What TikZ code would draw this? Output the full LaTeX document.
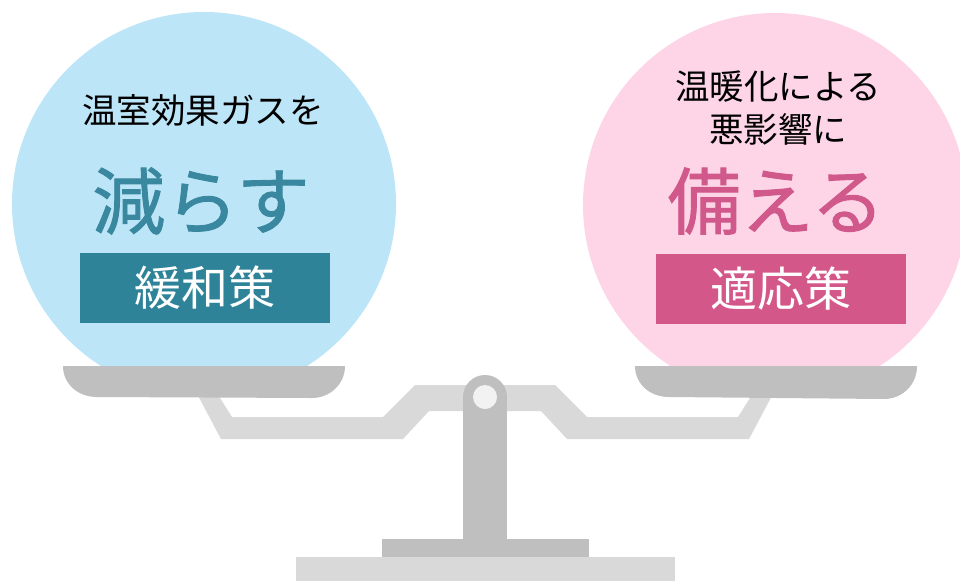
\documentclass[tikz,border=0pt]{standalone}
\usepackage{fontspec}
\setmainfont{Noto Sans CJK JP}
\newfontfamily\heavyfont[FakeBold=1.2]{Noto Sans CJK JP}
\usepackage{tikz}

\definecolor{mitiback}{HTML}{BDE5F8}
\definecolor{mititext}{HTML}{3A889F}
\definecolor{mitibox}{HTML}{2F8399}
\definecolor{adaptback}{HTML}{FDD5E6}
\definecolor{adapttext}{HTML}{D0588B}
\definecolor{adaptbox}{HTML}{D4578A}
\definecolor{scaledark}{HTML}{BFBFBF}
\definecolor{scalelight}{HTML}{D9D9D9}
\definecolor{scalehole}{HTML}{F2F2F2}

\begin{document}
\begin{tikzpicture}[x=1pt, y=-1pt,
  lead/.style={inner sep=0pt, align=center, font=\fontsize{34.5}{43}\selectfont},
  verb/.style={inner sep=0pt, font=\heavyfont\fontsize{73}{80}\selectfont},
  tag/.style={inner sep=0pt, minimum width=250pt, minimum height=70pt,
    text=white, font=\fontsize{47}{50}\selectfont}]
  \useasboundingbox (0,0) rectangle (960,581);
  \clip (0,0) rectangle (960,581);
  \fill[mitiback] (204,204) circle[radius=192pt];
  \fill[adaptback] (775,205) circle[radius=192pt];
  \node[lead] (mitilead) at (203,110) {温室効果ガスを};
  \node[verb, text=mititext] (mitiverb) at (201,201) {減らす};
  \node[tag, fill=mitibox] (mitibox) at (205,288) {緩和策};
  \node[lead] (adaptlead) at (778,108) {温暖化による\\悪影響に};
  \node[verb, text=adapttext] (adaptverb) at (776,201) {備える};
  \node[tag, fill=adaptbox] (adaptbox) at (781,288.5) {適応策};
  % beam
  \fill[scalelight] (195,390) -- (221,439) -- (403,439) -- (429,411)
    -- (541,411) -- (567,439) -- (749,439) -- (775,390) -- (755,390)
    -- (738,417) -- (587,417) -- (555,385) -- (415,385) -- (383,417)
    -- (232,417) -- (215,390) -- cycle;
  % pans
  \fill[scaledark] (63,366) -- (345,366) .. controls (345,384) and (330,398) .. (312,398)
    -- (97,397) .. controls (78,397) and (63,384) .. (63,366) -- cycle;
  \fill[scaledark] (635,366) -- (917,366) .. controls (917,385) and (902,399) .. (884,399)
    -- (669,397) .. controls (650,397) and (635,384) .. (635,366) -- cycle;
  % post and base
  \fill[scaledark] (463,397) rectangle (507,540);
  \fill[scaledark] (485,397) circle[radius=22pt];
  \fill[scalehole] (485,397) circle[radius=12pt];
  \fill[scaledark] (382,539) rectangle (589,557);
  \fill[scalelight] (296,557) rectangle (675,581);
\end{tikzpicture}
\end{document}
